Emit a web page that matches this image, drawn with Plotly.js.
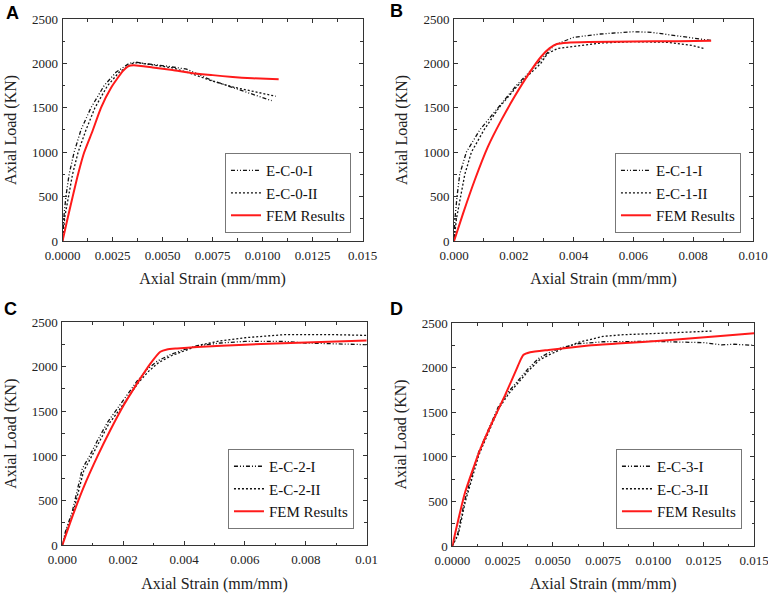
<!DOCTYPE html>
<html>
<head>
<meta charset="utf-8">
<script src="https://cdn.plot.ly/plotly-3.0.1.min.js"></script>
<style>html,body{margin:0;padding:0;background:#fff;}#chart{width:768px;height:594px;}</style>
</head>
<body>
<div id="chart"></div>
<script>
// ---------- Panel A ----------
const aStrainI  = [0, 0.00003, 0.00008, 0.00017, 0.00033, 0.00058, 0.00092, 0.00142, 0.00208, 0.00267, 0.00333, 0.00367, 0.0042, 0.0052, 0.0062, 0.0075, 0.0085, 0.0095, 0.01045];
const aLoadI    = [0, 150, 300, 500, 750, 1000, 1250, 1500, 1750, 1900, 2000, 2015, 1995, 1970, 1935, 1805, 1730, 1655, 1580];
const aStrainII = [0, 0.00005, 0.00012, 0.0003, 0.0005, 0.00078, 0.00117, 0.00162, 0.00225, 0.00283, 0.0035, 0.00375, 0.0045, 0.0055, 0.0065, 0.0075, 0.0085, 0.0095, 0.01065];
const aLoadII   = [0, 120, 280, 500, 750, 1000, 1250, 1500, 1750, 1900, 2000, 2008, 1985, 1950, 1880, 1800, 1735, 1685, 1630];
const aStrainF  = [0, 0.00025, 0.0005, 0.00078, 0.00108, 0.0015, 0.00192, 0.00242, 0.003, 0.0033, 0.00355, 0.0045, 0.0055, 0.0065, 0.0075, 0.0085, 0.0095, 0.0108];
const aLoadF    = [0, 250, 492, 754, 996, 1239, 1500, 1724, 1910, 1970, 1980, 1955, 1925, 1890, 1868, 1846, 1832, 1822];

// ---------- Panel B ----------
const bStrainI  = [0, 0.00003, 0.0001, 0.00019, 0.00041, 0.00086, 0.00147, 0.00208, 0.0028, 0.00336, 0.004, 0.0049, 0.006, 0.0066, 0.0074, 0.008, 0.0086];
const bLoadI    = [0, 250, 500, 750, 1000, 1250, 1500, 1750, 2000, 2207, 2294, 2331, 2357, 2350, 2313, 2286, 2258];
const bStrainII = [0, 0.00008, 0.00022, 0.00036, 0.00058, 0.001, 0.0015, 0.00213, 0.0029, 0.00313, 0.00347, 0.004, 0.0049, 0.006, 0.0071, 0.008, 0.0084];
const bLoadII   = [0, 250, 500, 750, 1000, 1250, 1500, 1750, 2000, 2112, 2169, 2193, 2230, 2245, 2238, 2200, 2165];
const bStrainF  = [0, 0.0003, 0.00069, 0.00113, 0.00158, 0.00202, 0.00247, 0.00291, 0.00319, 0.00344, 0.0038, 0.0045, 0.006, 0.0075, 0.0086];
const bLoadF    = [0, 308, 684, 1060, 1361, 1624, 1868, 2075, 2169, 2218, 2233, 2240, 2247, 2250, 2255];

// ---------- Panel C ----------
const cStrainI  = [0, 0.0001, 0.00033, 0.00049, 0.00066, 0.00093, 0.00115, 0.00148, 0.0018, 0.00213, 0.00246, 0.00279, 0.00311, 0.00355, 0.00399, 0.00443, 0.0052, 0.006, 0.00727, 0.008, 0.0089, 0.01];
const cLoadI    = [0, 150, 380, 600, 860, 1020, 1170, 1375, 1525, 1690, 1840, 1970, 2060, 2135, 2190, 2235, 2265, 2283, 2283, 2265, 2257, 2246];
const cStrainII = [0, 0.0001, 0.00035, 0.00052, 0.0007, 0.00097, 0.0012, 0.00152, 0.00185, 0.00218, 0.0025, 0.00284, 0.00316, 0.0036, 0.00405, 0.0045, 0.0052, 0.006, 0.00727, 0.008, 0.009, 0.01];
const cLoadII   = [0, 130, 360, 580, 830, 1000, 1150, 1355, 1505, 1670, 1820, 1950, 2045, 2125, 2185, 2240, 2290, 2324, 2358, 2361, 2358, 2350];
const cStrainF  = [0, 0.00033, 0.00071, 0.00115, 0.00158, 0.00202, 0.00246, 0.0029, 0.00322, 0.00344, 0.00377, 0.00443, 0.006, 0.008, 0.01];
const cLoadF    = [0, 321, 656, 992, 1290, 1570, 1813, 2037, 2167, 2193, 2204, 2220, 2246, 2270, 2292];

// ---------- Panel D ----------
const dStrainI  = [0, 0.00028, 0.00062, 0.00128, 0.00178, 0.00228, 0.00278, 0.0032, 0.00378, 0.00428, 0.00478, 0.00545, 0.00628, 0.0075, 0.0099, 0.0125, 0.0134, 0.014, 0.015];
const dLoadI    = [0, 142, 514, 1036, 1297, 1557, 1725, 1840, 1990, 2100, 2165, 2225, 2268, 2290, 2294, 2280, 2255, 2262, 2250];
const dStrainII = [0, 0.0003, 0.00065, 0.00132, 0.00182, 0.00232, 0.00282, 0.00325, 0.00383, 0.00433, 0.00483, 0.0055, 0.0063, 0.0075, 0.0085, 0.0107, 0.0129];
const dLoadII   = [0, 130, 500, 1020, 1285, 1545, 1712, 1825, 1975, 2085, 2145, 2215, 2285, 2350, 2369, 2388, 2410];
const dStrainF  = [0, 0.00062, 0.00137, 0.00195, 0.00262, 0.0032, 0.0034, 0.00353, 0.00387, 0.00478, 0.00678, 0.0082, 0.01069, 0.01318, 0.015];
const dLoadF    = [0, 589, 1073, 1371, 1688, 1986, 2090, 2142, 2172, 2198, 2247, 2269, 2306, 2351, 2385];

// ---------- Labels / ticks ----------
const panelLabels = ['A', 'B', 'C', 'D'];
const seriesNamesA = ['E-C-0-I', 'E-C-0-II', 'FEM Results'];
const seriesNamesB = ['E-C-1-I', 'E-C-1-II', 'FEM Results'];
const seriesNamesC = ['E-C-2-I', 'E-C-2-II', 'FEM Results'];
const seriesNamesD = ['E-C-3-I', 'E-C-3-II', 'FEM Results'];
const xTickValsAD = [0, 0.0025, 0.005, 0.0075, 0.01, 0.0125, 0.015];
const xTickTextAD = ['0.0000', '0.0025', '0.0050', '0.0075', '0.0100', '0.0125', '0.015'];
const xTickValsB = [0, 0.002, 0.004, 0.006, 0.008, 0.010];
const xTickTextB = ['0.000', '0.002', '0.004', '0.006', '0.008', '0.010'];
const xTickValsC = [0, 0.002, 0.004, 0.006, 0.008, 0.010];
const xTickTextC = ['0.000', '0.002', '0.004', '0.006', '0.008', '0.01'];
const yTickVals = [0, 500, 1000, 1500, 2000, 2500];
const xTitle = 'Axial Strain (mm/mm)';
const yTitle = 'Axial Load (KN)';

// ---------- Build ----------
const SERIF = 'Liberation Serif, Times New Roman, serif';
const dashDotDot = '4px,2px,1px,2px,1px,2px';
const dotted = '2px,2px';

function panelTraces(idx, sets, names, legendId) {
  const xa = idx === 1 ? 'x' : 'x' + idx;
  const ya = idx === 1 ? 'y' : 'y' + idx;
  const styles = [
    {color: '#111', width: 1.3, dash: dashDotDot},
    {color: '#111', width: 1.3, dash: dotted},
    {color: '#ff1a1a', width: 2, dash: 'solid', shape: 'spline', smoothing: 0.5}
  ];
  return sets.map((s, i) => ({
    x: s[0], y: s[1], name: names[i], type: 'scatter', mode: 'lines',
    xaxis: xa, yaxis: ya, legend: legendId, line: styles[i]
  }));
}

const data = [].concat(
  panelTraces(1, [[aStrainI, aLoadI], [aStrainII, aLoadII], [aStrainF, aLoadF]], seriesNamesA, 'legend'),
  panelTraces(2, [[bStrainI, bLoadI], [bStrainII, bLoadII], [bStrainF, bLoadF]], seriesNamesB, 'legend2'),
  panelTraces(3, [[cStrainI, cLoadI], [cStrainII, cLoadII], [cStrainF, cLoadF]], seriesNamesC, 'legend3'),
  panelTraces(4, [[dStrainI, dLoadI], [dStrainII, dLoadII], [dStrainF, dLoadF]], seriesNamesD, 'legend4')
);

function xAxis(domain, anchor, range, tv, tt, minorStep) {
  return {
    domain: domain, anchor: anchor, range: range,
    tickmode: 'array', tickvals: tv, ticktext: tt,
    ticks: 'inside', ticklen: 4, tickwidth: 1, tickcolor: '#333',
    minor: {ticks: 'inside', ticklen: 2.5, tickcolor: '#333', dtick: minorStep, tick0: 0},
    showline: true, linecolor: '#333', linewidth: 1, mirror: 'ticks',
    showgrid: false, zeroline: false, ticklabelstandoff: 2, ticklabeloverflow: 'allow',
    tickfont: {family: SERIF, size: 13, color: '#222'},
    title: {text: xTitle, font: {family: SERIF, size: 16, color: '#222'}, standoff: 11}
  };
}
function yAxis(domain, anchor) {
  return {
    domain: domain, anchor: anchor, range: [0, 2500],
    tickmode: 'array', tickvals: yTickVals,
    ticks: 'inside', ticklen: 4, tickwidth: 1, tickcolor: '#333',
    minor: {ticks: 'inside', ticklen: 2.5, tickcolor: '#333', dtick: 250, tick0: 0},
    showline: true, linecolor: '#333', linewidth: 1, mirror: 'ticks',
    showgrid: false, zeroline: false, ticklabelstandoff: 1,
    tickfont: {family: SERIF, size: 13, color: '#222'},
    title: {text: yTitle, font: {family: SERIF, size: 16, color: '#222'}, standoff: 11}
  };
}
function legendAt(x, y) {
  return {
    x: x, y: y, xanchor: 'right', yanchor: 'bottom', xref: 'paper', yref: 'paper',
    bgcolor: '#fff', bordercolor: '#777', borderwidth: 1,
    font: {family: SERIF, size: 15, color: '#111'}, tracegroupgap: 0
  };
}

const layout = {
  width: 768, height: 594,
  margin: {l: 0, r: 0, t: 0, b: 0},
  paper_bgcolor: '#fff', plot_bgcolor: '#fff',
  showlegend: true,
  xaxis:  xAxis([0.0814, 0.4723], 'y',  [0, 0.015], xTickValsAD, xTickTextAD, 0.00125),
  yaxis:  yAxis([0.5943, 0.9680], 'x'),
  xaxis2: xAxis([0.5912, 0.9805], 'y2', [0, 0.010], xTickValsB, xTickTextB, 0.001),
  yaxis2: yAxis([0.5943, 0.9680], 'x2'),
  xaxis3: xAxis([0.0811, 0.4775], 'y3', [0, 0.010], xTickValsC, xTickTextC, 0.001),
  yaxis3: yAxis([0.0820, 0.4579], 'x3'),
  xaxis4: xAxis([0.5889, 0.9818], 'y4', [0, 0.015], xTickValsAD, xTickTextAD, 0.00125),
  yaxis4: yAxis([0.0808, 0.4562], 'x4'),
  legend:  legendAt(0.457, 0.6077),
  legend2: legendAt(0.9648, 0.6077),
  legend3: legendAt(0.4609, 0.1094),
  legend4: legendAt(0.9661, 0.1094),
  annotations: [
    [12 / 768, 1 - 12.5 / 594],
    [396 / 768, 1 - 11.5 / 594],
    [10 / 768, 1 - 309 / 594],
    [396 / 768, 1 - 309 / 594]
  ].map((p, i) => ({
    text: '<b>' + panelLabels[i] + '</b>', x: p[0], y: p[1], xref: 'paper', yref: 'paper',
    xanchor: 'center', yanchor: 'middle', showarrow: false,
    font: {family: 'Liberation Sans, Arial, sans-serif', size: 18, color: '#000'}
  }))
};

Plotly.newPlot('chart', data, layout, {displayModeBar: false, staticPlot: true});
</script>
</body>
</html>
